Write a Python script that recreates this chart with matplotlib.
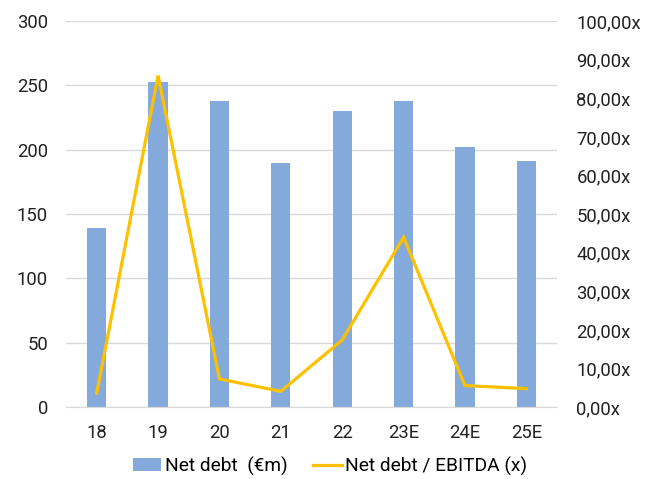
import matplotlib
matplotlib.use("Agg")
import matplotlib.pyplot as plt
from matplotlib.ticker import FuncFormatter, MultipleLocator

plt.rcParams['font.family'] = ['Roboto', 'DejaVu Sans']

categories = ["18", "19", "20", "21", "22", "23E", "24E", "25E"]
net_debt = [139.5, 253, 238, 190, 230, 238, 202, 191]
nd_ebitda = [3.6, 85.9, 7.3, 4.1, 17.4, 44.0, 5.6, 4.8]

bar_color = "#84aadb"
line_color = "#ffc000"

fig = plt.figure(figsize=(6.6, 4.79), dpi=100)
ax = fig.add_axes([0.1, 0.150, 0.744, 0.806])
ax2 = ax.twinx()

x = list(range(len(categories)))
ax.bar(x, net_debt, width=0.315, color=bar_color, zorder=2, label="Net debt  (€m)")
ax2.plot(x, nd_ebitda, color=line_color, linewidth=2.3, label="Net debt / EBITDA (x)",
         solid_joinstyle='miter')

ax.set_xlim(-0.5, len(categories) - 0.5)
ax.set_ylim(0, 300)
ax2.set_ylim(0, 100)
ax.yaxis.set_major_locator(MultipleLocator(50))
ax2.yaxis.set_major_locator(MultipleLocator(10))
ax2.yaxis.set_major_formatter(FuncFormatter(lambda v, p: f"{v:.2f}".replace('.', ',') + "x"))

ax.set_xticks(x)
ax.set_xticklabels(categories)
ax.grid(axis='y', color='#d9d9d9', linewidth=1, zorder=0)
ax.set_axisbelow(True)

for a in (ax, ax2):
    for s in ('top', 'right', 'left', 'bottom'):
        a.spines[s].set_visible(False)
    a.tick_params(length=0, labelsize=13.3, colors='#222222')
ax.spines['bottom'].set_visible(True)
ax.spines['bottom'].set_color('#d9d9d9')
ax.tick_params(axis='y', pad=13)
ax.tick_params(axis='x', pad=12)
ax2.tick_params(axis='y', pad=14)

h1, l1 = ax.get_legend_handles_labels()
h2, l2 = ax2.get_legend_handles_labels()
fig.legend(h1 + h2, l1 + l2, loc='center', bbox_to_anchor=(0.5, 0.027), ncol=2,
           frameon=False, fontsize=13.8, handlelength=1.5, handleheight=0.65,
           columnspacing=1.3, handletextpad=0.2)

fig.savefig("out.png", dpi=100)
